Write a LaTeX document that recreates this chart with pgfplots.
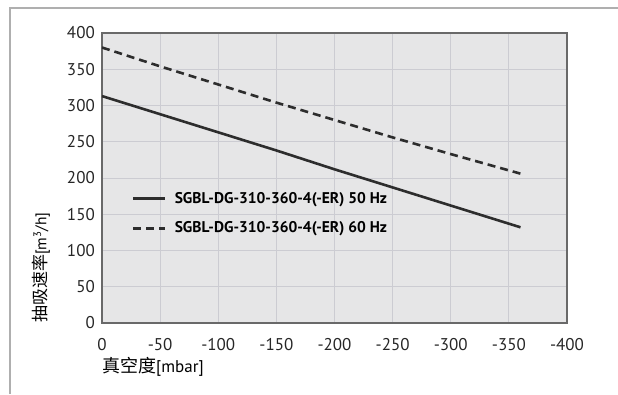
\documentclass[border=0pt]{standalone}
\usepackage{fontspec}
\setmainfont{PT Sans}
\newfontfamily\cjk{Noto Sans CJK SC}
\usepackage{pgfplots}
\pgfplotsset{compat=1.18}
\definecolor{bgc}{RGB}{230,230,231}
\definecolor{gridc}{RGB}{204,204,210}
\definecolor{axc}{RGB}{105,105,105}
\definecolor{linec}{RGB}{45,45,45}
\definecolor{framec}{RGB}{175,175,175}
\begin{document}
\begin{tikzpicture}
\useasboundingbox (0,0) rectangle (618pt,394pt);
\draw[framec, line width=1.2pt] (10pt,0) -- (10pt,386pt) -- (618pt,386pt);
\begin{axis}[
  at={(102pt,71pt)}, anchor=south west,
  scale only axis, width=465pt, height=290pt,
  x dir=reverse,
  xmin=-400, xmax=0, ymin=0, ymax=400,
  xtick={0,-50,-100,-150,-200,-250,-300,-350,-400},
  xticklabels={0,-50,-100,-150,-200,-250,-300,-350,-400},
  ytick={0,50,100,150,200,250,300,350,400},
  yticklabels={0,50,100,150,200,250,300,350,400},
  major tick length=0pt,
  tick style={draw=none},
  grid=major,
  major grid style={gridc, line width=1pt},
  axis line style={axc, line width=1.4pt},
  axis background/.style={fill=bgc},
  ticklabel style={font=\fontsize{17}{20}\selectfont, text=black!85},
  yticklabel style={anchor=east, inner sep=0pt, xshift=-7pt},
  xticklabel style={anchor=north, inner sep=0pt, yshift=-15pt},
  xlabel={{\cjk\fontsize{18}{21}\selectfont 真空度}{\fontsize{17}{20}\selectfont[mbar]}},
  xlabel style={at={(rel axis cs:0,-0.117)}, anchor=north west, inner sep=0pt},
  ylabel={{\cjk\fontsize{17}{20}\selectfont 抽吸速率}{\fontsize{15.5}{19}\selectfont[m\textsuperscript{3}/h]}},
  ylabel style={at={(rel axis cs:-0.1312,0)}, anchor=west, inner sep=0pt},
  legend style={at={(rel axis cs:0.058,0.465)}, anchor=north west, draw=none, fill=none,
    font=\bfseries\fontsize{15.5}{18}\selectfont, row sep=13pt, column sep=6pt,
    nodes={inner sep=2pt}},
  legend cell align=left,
  legend image code/.code={\draw[#1] (0pt,0pt) -- (32pt,0pt);},
]
\addplot[linec, line width=2.6pt] coordinates {
(0,313) (-50,288) (-100,263) (-150,238) (-200,212) (-250,187) (-300,162) (-360,132)};
\addlegendentry{SGBL-DG-310-360-4(-ER) 50 Hz}
\addplot[linec, line width=2.6pt, dash pattern=on 8pt off 5pt] coordinates {
(0,380) (-50,354) (-100,329) (-150,304) (-200,280) (-250,256) (-300,233) (-360,206)};
\addlegendentry{SGBL-DG-310-360-4(-ER) 60 Hz}
\end{axis}
\end{tikzpicture}
\end{document}
